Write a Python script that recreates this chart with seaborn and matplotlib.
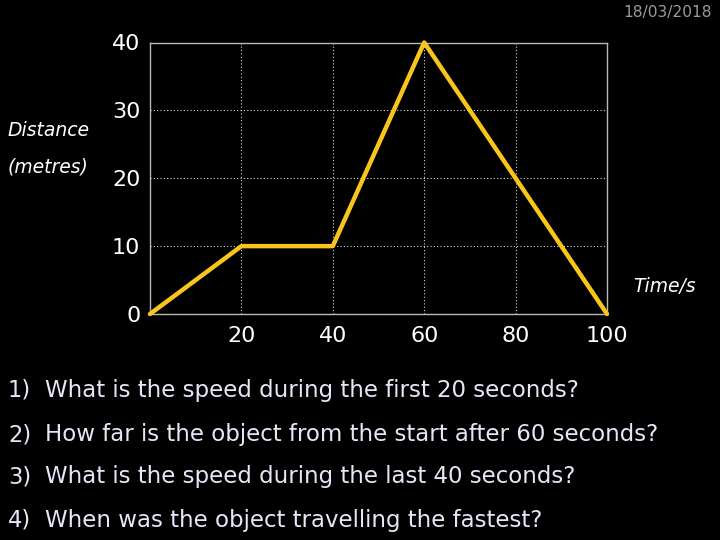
import numpy as np
import pandas as pd
import matplotlib
matplotlib.use('Agg')
import matplotlib.pyplot as plt
import seaborn as sns

# distance-time data
time_s = [0, 20, 40, 60, 100]
distance_m = [0, 10, 10, 40, 0]
x_ticks = [20, 40, 60, 80, 100]
y_ticks = [0, 10, 20, 30, 40]
questions = [
    "What is the speed during the first 20 seconds?",
    "How far is the object from the start after 60 seconds?",
    "What is the speed during the last 40 seconds?",
    "When was the object travelling the fastest?",
]

sns.set_style('dark')
plt.rcParams['font.family'] = ['DejaVu Sans']

df = pd.DataFrame({'time': time_s, 'distance': distance_m})

fig = plt.figure(figsize=(7.2, 5.4), dpi=100, facecolor='black')
ax = fig.add_axes([150 / 720, 1 - 314 / 540, 457 / 720, 271.5 / 540])
ax.set_facecolor('black')

sns.lineplot(data=df, x='time', y='distance', ax=ax, color='#F7C51C',
             linewidth=3.2, solid_joinstyle='round', solid_capstyle='round',
             clip_on=False, zorder=5)

ax.set_xlim(0, 100)
ax.set_ylim(0, 40)
ax.set_xticks(x_ticks)
ax.set_yticks(y_ticks)
ax.tick_params(axis='both', length=0, colors='white', labelsize=16)
ax.tick_params(axis='x', pad=9)
ax.tick_params(axis='y', pad=7)
ax.grid(True, color='#d8d8d8', linestyle=(0, (1, 2)), linewidth=0.8)
for s in ax.spines.values():
    s.set_visible(True)
    s.set_color('#b8b8b8')
    s.set_linewidth(1)
ax.set_xlabel('')
ax.set_ylabel('')

fig.text(8 / 720, 1 - 130 / 540, 'Distance', color='white', fontsize=13.5,
         style='italic', va='center', ha='left')
fig.text(8 / 720, 1 - 167 / 540, '(metres)', color='white', fontsize=13.5,
         style='italic', va='center', ha='left')
fig.text(633 / 720, 1 - 287 / 540, 'Time/s', color='white', fontsize=13.5,
         style='italic', va='center', ha='left')
fig.text(712 / 720, 1 - 13 / 540, '18/03/2018', color='#9a9a9a', fontsize=11.2,
         va='center', ha='right')

q_y = [390, 435, 477, 520]
for i, (q, yy) in enumerate(zip(questions, q_y)):
    fig.text(8 / 720, 1 - yy / 540, f'{i + 1})', color='#e6e6f8', fontsize=16.3,
             va='center', ha='left')
    fig.text(45 / 720, 1 - yy / 540, q, color='#e6e6f8', fontsize=16.5,
             va='center', ha='left')

fig.savefig('out.png', dpi=100, facecolor='black')
